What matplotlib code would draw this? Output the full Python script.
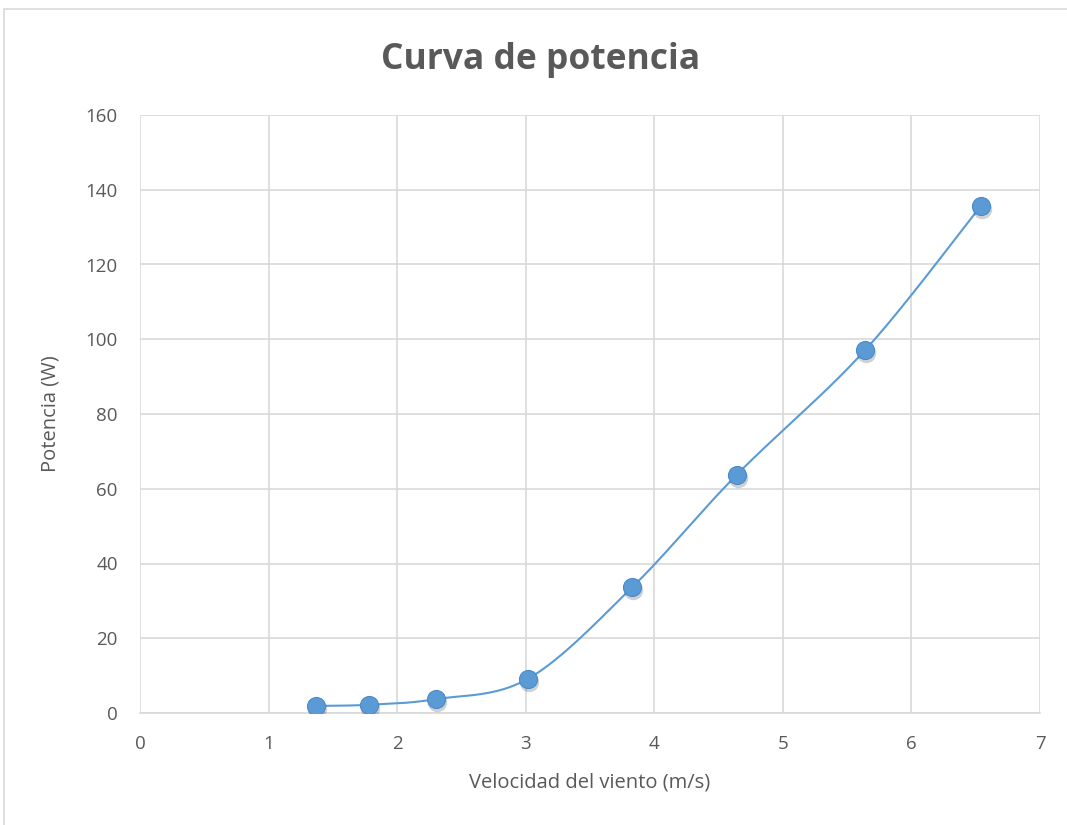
import numpy as np
import matplotlib.pyplot as plt
from matplotlib.patches import Rectangle
from matplotlib.transforms import ScaledTranslation

# Power curve measurements
velocidad = [1.37, 1.78, 2.30, 3.02, 3.83, 4.64, 5.64, 6.54]
potencia = [1.9, 2.2, 3.7, 9.2, 33.7, 63.7, 97.1, 135.7]

x_ticks = [0, 1, 2, 3, 4, 5, 6, 7]
y_ticks = [0, 20, 40, 60, 80, 100, 120, 140, 160]

BLUE = '#5B9BD5'
TEXT = '#595959'
GRID = '#D9D9D9'

plt.rcParams['font.family'] = ['Open Sans', 'DejaVu Sans']


def smooth_curve(xs, ys, steps=40):
    """Catmull-Rom style cubic Bezier through the points."""
    p = np.column_stack([xs, ys]).astype(float)
    n = len(p)
    out = []
    t = np.linspace(0, 1, steps)[:, None]
    for i in range(n - 1):
        p0 = p[max(i - 1, 0)]
        p1 = p[i]
        p2 = p[i + 1]
        p3 = p[min(i + 2, n - 1)]
        c1 = p1 + (p2 - p0) / 6
        c2 = p2 - (p3 - p1) / 6
        seg = ((1 - t) ** 3) * p1 + 3 * ((1 - t) ** 2) * t * c1 \
            + 3 * (1 - t) * t ** 2 * c2 + t ** 3 * p2
        out.append(seg)
    seg = np.vstack(out)
    return seg[:, 0], seg[:, 1]


fig = plt.figure(figsize=(10.67, 8.25), dpi=100)
fig.patch.set_facecolor('white')

# chart border
fig.patches.append(Rectangle((4 / 1067, -0.01), 1.1, 1 - 9 / 825 + 0.01,
                             transform=fig.transFigure, fill=False,
                             edgecolor='#D9D9D9', linewidth=1.2))

ax = fig.add_axes([140 / 1067, 1 - 713 / 825, 900 / 1067, 598 / 825])

sx, sy = smooth_curve(velocidad, potencia)
ax.plot(sx, sy, color=BLUE, linewidth=1.5, zorder=3)

# soft marker shadow
shadow = ax.transData + ScaledTranslation(1.0 / 100, -3.0 / 100, fig.dpi_scale_trans)
ax.plot(velocidad, potencia, linestyle='none', marker='o', markersize=14,
        markerfacecolor='#000000', markeredgecolor='none', alpha=0.18,
        transform=shadow, zorder=3)
ax.plot(velocidad, potencia, linestyle='none', marker='o', markersize=13,
        markerfacecolor=BLUE, markeredgecolor='#4A8ACB', markeredgewidth=0.8,
        zorder=4)

ax.set_xlim(0, 7)
ax.set_ylim(0, 160)
ax.set_xticks(x_ticks)
ax.set_yticks(y_ticks)
ax.grid(True, color=GRID, linewidth=1.2)
ax.set_axisbelow(True)
for side in ['top', 'right', 'left']:
    ax.spines[side].set_visible(False)
ax.spines['bottom'].set_color(GRID)
ax.spines['bottom'].set_linewidth(1.2)
ax.tick_params(axis='both', length=0, labelsize=13.5, colors=TEXT)
ax.tick_params(axis='x', pad=16)
ax.tick_params(axis='y', pad=16)

ax.set_xlabel('Velocidad del viento (m/s)', fontsize=14.5, color=TEXT, labelpad=14)
ax.set_ylabel('Potencia (W)', fontsize=14.5, color=TEXT, labelpad=18)

fig.text(541 / 1067, 1 - 60 / 825, 'Curva de potencia', ha='center', va='center',
         fontsize=25.5, fontweight='bold', color=TEXT)

fig.savefig('out.png', dpi=100)
